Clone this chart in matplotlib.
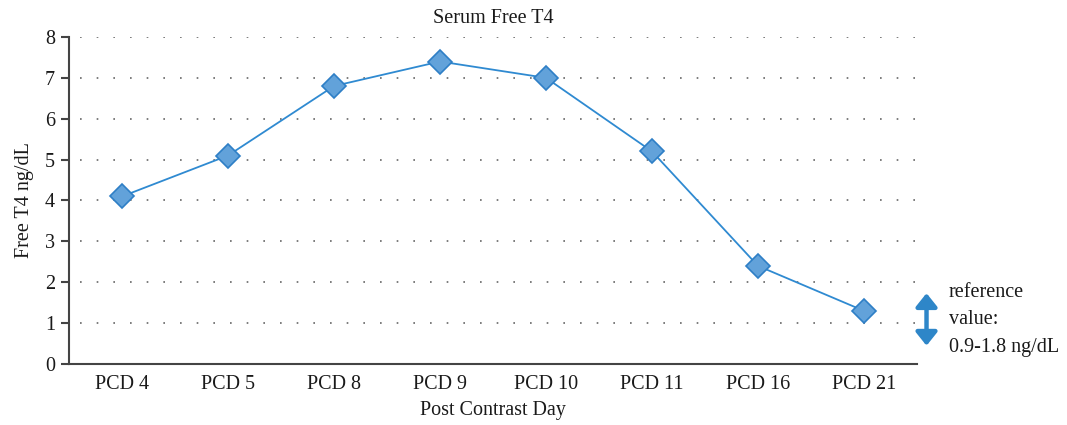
import matplotlib.pyplot as plt
from matplotlib.patches import FancyArrowPatch

days = ['PCD 4', 'PCD 5', 'PCD 8', 'PCD 9', 'PCD 10', 'PCD 11', 'PCD 16', 'PCD 21']
free_t4 = [4.1, 5.1, 6.8, 7.4, 7.0, 5.2, 2.4, 1.3]
ref_text = 'reference\nvalue:\n0.9-1.8 ng/dL'

plt.rcParams['font.family'] = ['Liberation Serif', 'DejaVu Serif']

fig = plt.figure(figsize=(10.67, 4.25), dpi=100)
ax = fig.add_axes([0.0647, 0.1435, 0.7947, 0.7695])

x = list(range(len(days)))
ax.plot(x, free_t4, color='#2F8AD1', lw=1.3, marker='D', ms=12.5,
        markerfacecolor='#62A2DA', markeredgecolor='#2E7FC6', markeredgewidth=1.2, zorder=3)

ax.set_xlim(-0.5, len(days) - 0.5)
ax.set_ylim(0, 8)
ax.set_yticks(range(0, 9))
ax.set_xticks(x)
ax.set_xticklabels(days)
ax.tick_params(axis='x', length=0, pad=8, labelsize=14.5, colors='#1a1a1a')
ax.tick_params(axis='y', length=6, width=1.5, pad=4, labelsize=14.5, colors='#1a1a1a', direction='out')
ax.tick_params(axis='y', color='#444444')

for v in range(1, 9):
    ax.axhline(v, xmin=0.013, color='#666666', lw=1.2, ls=(0, (1, 9)), zorder=1)

for s in ['top', 'right']:
    ax.spines[s].set_visible(False)
for s in ['left', 'bottom']:
    ax.spines[s].set_color('#444444')
    ax.spines[s].set_linewidth(1.5)

ax.set_title('Serum Free T4', fontsize=14.5, pad=10, color='#1a1a1a')
ax.set_xlabel('Post Contrast Day', fontsize=14.5, labelpad=5, color='#1a1a1a')
ax.set_ylabel('Free T4 ng/dL', fontsize=14.5, labelpad=8, color='#1a1a1a')

# double arrow for the reference range, right of the plot
arr = FancyArrowPatch((7.59, 0.38), (7.59, 1.8), arrowstyle='<|-|>,head_length=5,head_width=4',
                      color='#2E86C8', lw=3.2, mutation_scale=1.6, clip_on=False)
ax.add_patch(arr)
ax.text(7.8, 1.08, ref_text, fontsize=14.5, va='center', ha='left',
        color='#1a1a1a', linespacing=1.6)

fig.savefig('out.png', dpi=100)
